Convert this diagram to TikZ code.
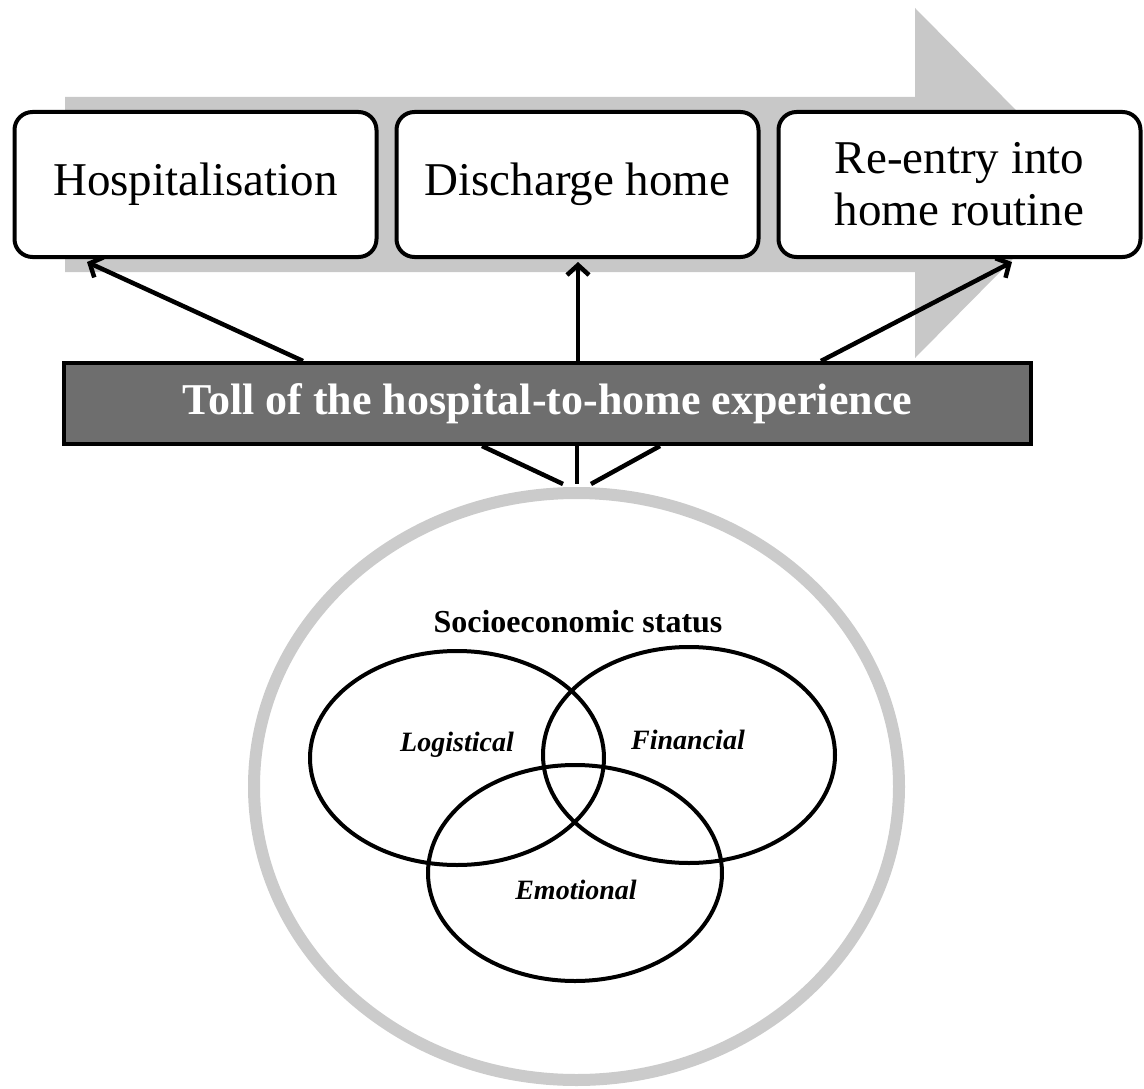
\documentclass[tikz,border=0pt]{standalone}
\usepackage{fontspec}
\setmainfont{Liberation Serif}
\usetikzlibrary{arrows.meta,calc}
\definecolor{lightarrow}{HTML}{C8C8C8}
\definecolor{barfill}{HTML}{6E6E6E}
\definecolor{ringgray}{HTML}{CBCBCB}
\begin{document}
\begin{tikzpicture}[x=1pt,y=-1pt,
  stagebox/.style={draw=black,line width=4pt,rounded corners=18pt,fill=white,
    minimum width=362pt,minimum height=145pt,align=center,inner sep=0pt,
    font=\fontsize{47}{52}\selectfont},
  tollbar/.style={draw=black,line width=4pt,fill=barfill,minimum width=967pt,
    minimum height=81pt,inner sep=0pt,text=white,
    font=\fontsize{44}{48}\selectfont\bfseries},
  link/.style={line width=4.5pt,-{Straight Barb[length=10pt,width=22pt]}},
  plain/.style={line width=4.5pt},
  venn/.style={draw=black,line width=4pt},
  vlabel/.style={font=\fontsize{28}{30}\selectfont\bfseries\itshape}
]
\useasboundingbox (0,0) rectangle (1144,1089);
% big gray process arrow
\fill[lightarrow] (65,97) -- (915,97) -- (915,8) -- (1088,183) -- (915,358) -- (915,272) -- (65,272) -- cycle;
% stage boxes
\node[stagebox] (b1) at (195.5,184.5) {Hospitalisation};
\node[stagebox] (b2) at (577.5,184.5) {Discharge home};
\node[stagebox] (b3) at (959.5,184.5) {Re-entry into\\home routine};
% toll bar
\node[tollbar] (bar) at (547.5,403.5) {Toll of the hospital-to-home experience};
% outer ring
\draw[ringgray,line width=12pt] (576.5,786.5) ellipse [x radius=322.5, y radius=293.5];
% arrows to boxes
\coordinate (a1s) at (303,361);
\coordinate (a1e) at (87,262);
\coordinate (a2s) at (578,361);
\coordinate (a2e) at (578,262);
\coordinate (a3s) at (821,361);
\coordinate (a3e) at (1012,262);
\draw[link] (a1s) -- (a1e);
\draw[link] (a2s) -- (a2e);
\draw[link] (a3s) -- (a3e);
% lines from bar to ring
\coordinate (l1s) at (482,446);
\coordinate (l1e) at (563,484);
\coordinate (l2s) at (577,446);
\coordinate (l2e) at (577,484);
\coordinate (l3s) at (660,446);
\coordinate (l3e) at (591,484);
\draw[plain] (l1s) -- (l1e);
\draw[plain] (l2s) -- (l2e);
\draw[plain] (l3s) -- (l3e);
% venn
\node[font=\fontsize{32}{36}\selectfont\bfseries] (ses) at (578,622) {Socioeconomic status};
\draw[venn] (457,758) ellipse [x radius=147, y radius=107];
\draw[venn] (689,755) ellipse [x radius=146, y radius=108];
\draw[venn] (575,873) ellipse [x radius=147, y radius=108];
\node[vlabel] (lg) at (457,745) {Logistical};
\node[vlabel] (fi) at (688,740) {Financial};
\node[vlabel] (em) at (576,890) {Emotional};
\end{tikzpicture}
\end{document}
